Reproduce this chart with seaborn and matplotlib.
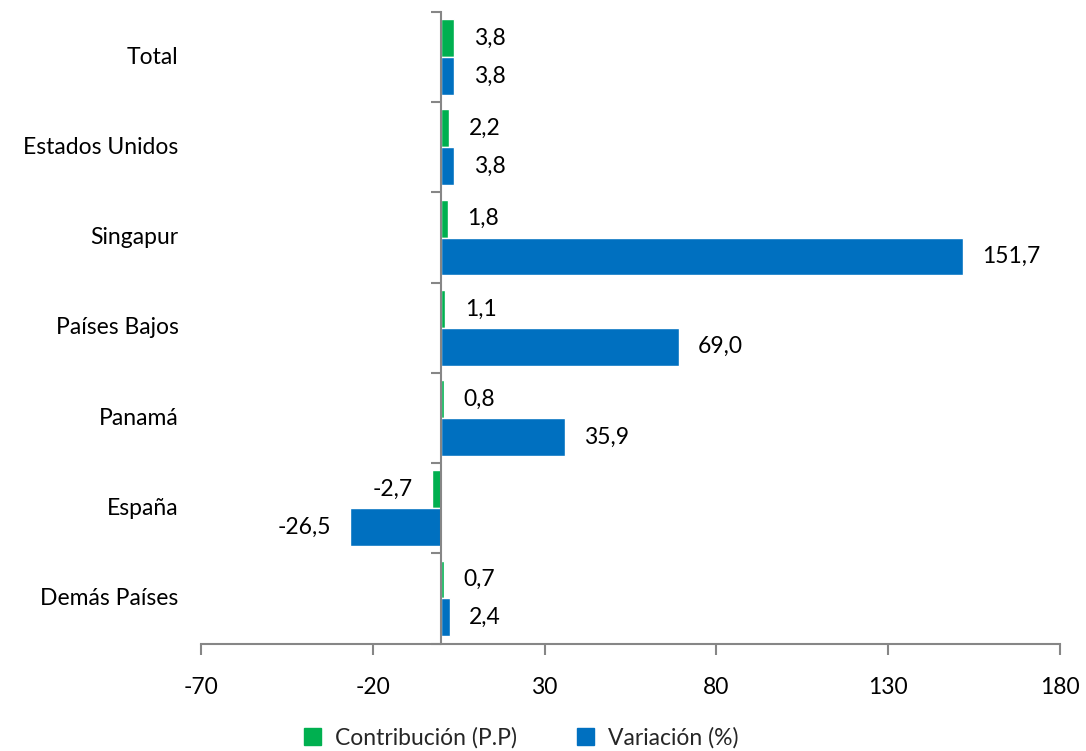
import matplotlib
matplotlib.use("Agg")
import matplotlib.pyplot as plt
import matplotlib.transforms as mtransforms
from matplotlib.patches import Patch
import seaborn as sns
import pandas as pd

categories = ["Total", "Estados Unidos", "Singapur", "Países Bajos", "Panamá", "España", "Demás Países"]
contribucion = [3.8, 2.2, 1.8, 1.1, 0.8, -2.7, 0.7]
variacion = [3.8, 3.8, 151.7, 69.0, 35.9, -26.5, 2.4]
series_names = ["Contribución (P.P)", "Variación (%)"]
x_ticks = [-70, -20, 30, 80, 130, 180]

sns.set_theme(style="white")
plt.rcParams['font.family'] = ['Lato', 'DejaVu Sans']

df = pd.DataFrame({
    "pais": categories * 2,
    "valor": contribucion + variacion,
    "serie": [series_names[0]] * len(categories) + [series_names[1]] * len(categories),
})

FS = 16.5
colors = ["#00B050", "#0070C0"]
fig = plt.figure(figsize=(10.86, 7.51), dpi=100)
ax = fig.add_axes([0.185, 0.143, 0.791, 0.841])
sns.barplot(data=df, y="pais", x="valor", hue="serie", order=categories,
            hue_order=series_names, palette=colors, orient="h", width=0.84,
            saturation=1, legend=False, ax=ax)

axis_grey = "#868686"
ax.set_xlim(-70, 180)
ax.set_ylim(len(categories) - 0.5, -0.5)
ax.set_xticks(x_ticks)
ax.set_xticklabels([str(t) for t in x_ticks], fontsize=FS, color="black")
ax.set_xlabel("")
ax.set_ylabel("")

# y axis at zero, ticks at category boundaries
ax.spines['left'].set_position(('data', 0))
ax.spines['left'].set_color(axis_grey)
ax.spines['left'].set_linewidth(1.5)
ax.spines['bottom'].set_color(axis_grey)
ax.spines['bottom'].set_linewidth(1.5)
ax.spines['top'].set_visible(False)
ax.spines['right'].set_visible(False)
ax.set_yticks([i - 0.5 for i in range(len(categories) + 1)])
ax.set_yticklabels([])
ax.tick_params(axis='y', direction='out', length=7, width=1.5, color=axis_grey, left=True)
ax.tick_params(axis='x', direction='out', length=8, width=1.5, color=axis_grey, bottom=True, pad=16)

# category labels at left of plot area
trans = mtransforms.blended_transform_factory(ax.transAxes, ax.transData)
for i, name in enumerate(categories):
    ax.text(-0.026, i, name, transform=trans, ha='right', va='center', fontsize=FS, color="black")

# value labels
all_vals = [contribucion, variacion]
for cont, vals in zip(ax.containers, all_vals):
    labels = [f"{v:.1f}".replace(".", ",") for v in vals]
    ax.bar_label(cont, labels=labels, padding=14, fontsize=FS, color="black")

handles = [Patch(facecolor=c, edgecolor=c) for c in colors]
fig.legend(handles, series_names, loc='lower center', bbox_to_anchor=(0.48, -0.024),
           ncol=2, frameon=False, fontsize=FS, handlelength=0.75, handleheight=0.75,
           handletextpad=0.6, columnspacing=2.6)

fig.savefig("out.png", dpi=100)
